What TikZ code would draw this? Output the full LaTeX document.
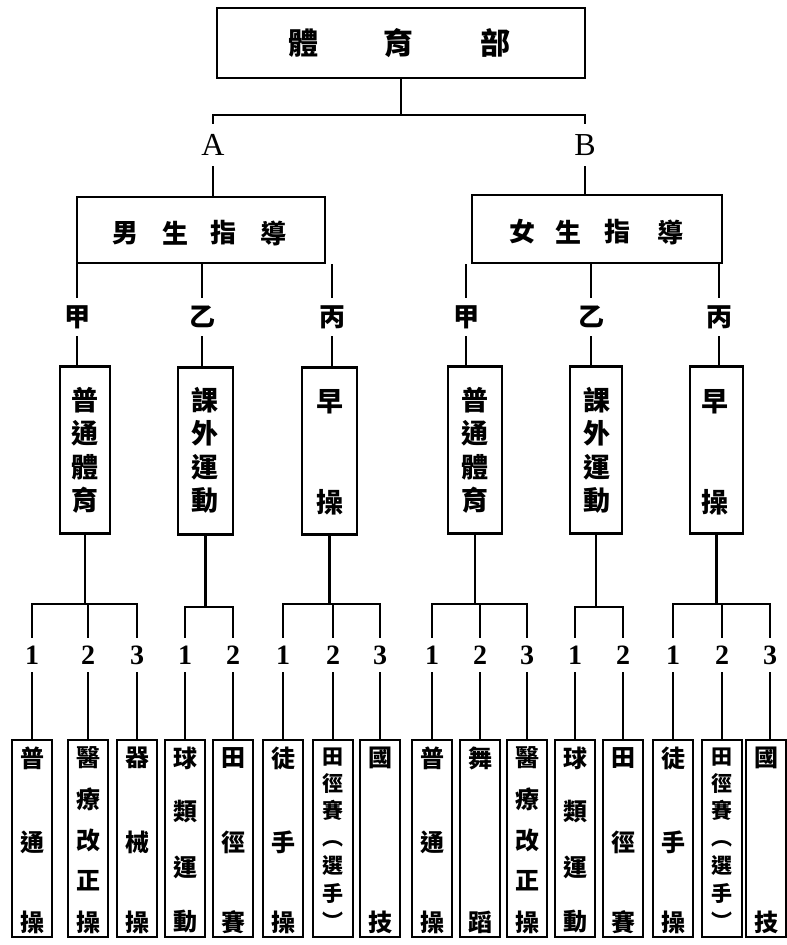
\documentclass[tikz,border=0pt]{standalone}
\usepackage{fontspec}
\setmainfont{Liberation Serif}
\newfontfamily\cjk{Noto Sans CJK TC}
\newcommand\botcol[4][tD]{%
  \node[box,minimum width=40pt,minimum height=197pt] (#2) at (#3,838.5) {};
  \foreach \c/\yy [count=\k] in {#4} \node[#1] (#2-\k) at (#3,\yy) {\c};
}
\newcommand\midcol[3]{%
  \foreach \c/\yy [count=\k] in {#3} \node[tC] (#1-\k) at (#2,\yy) {\c};
}
\begin{document}
\begin{tikzpicture}[x=1pt,y=-1pt,line width=2.6pt,
  box/.style={draw,inner sep=0pt,line width=2.6pt},
  tA/.style={font=\cjk\bfseries\fontsize{30}{30}\selectfont,inner sep=0pt},
  tB/.style={font=\cjk\bfseries\fontsize{26}{26}\selectfont,inner sep=0pt},
  tC/.style={font=\cjk\bfseries\fontsize{27}{27}\selectfont,inner sep=0pt},
  tD/.style={font=\cjk\bfseries\fontsize{24}{24}\selectfont,inner sep=0pt},
  tE/.style={font=\cjk\bfseries\fontsize{21}{21}\selectfont,inner sep=0pt,text height=17pt,text depth=2pt},
  gan/.style={font=\cjk\bfseries\fontsize{26}{26}\selectfont,inner sep=0pt,minimum height=36pt},
  num/.style={font=\bfseries\fontsize{28}{28}\selectfont,inner sep=0pt,minimum height=32pt},
  ab/.style={font=\fontsize{32}{32}\selectfont,inner sep=0pt,minimum height=40pt},
]
\useasboundingbox (0,0) rectangle (787,945);
\fill[white] (0,0) rectangle (787,945);

% top
\node[box,minimum width=368pt,minimum height=70pt] (top) at (401,43) {};
\node[tA] (t1) at (303,43) {體};
\node[tA] (t2) at (398,43) {育};
\node[tA] (t3) at (495,43) {部};
\node[ab] (A) at (213,145) {A};
\node[ab] (B) at (585,145) {B};
\coordinate (barA) at (213,115);
\coordinate (barB) at (585,115);
\draw (top.south) -- (top.south |- barA);
\draw (A.north) -- (barA) -- (barB) -- (B.north);

% level 2
\node[box,minimum width=248pt,minimum height=66pt] (boy) at (201,230) {};
\node[tB] (boy1) at (125,233) {男};
\node[tB] (boy2) at (175,233) {生};
\node[tB] (boy3) at (223,233) {指};
\node[tB] (boy4) at (273,233) {導};
\node[box,minimum width=250pt,minimum height=68pt] (girl) at (597,229) {};
\node[tB] (girl1) at (522,232) {女};
\node[tB] (girl2) at (568,232) {生};
\node[tB] (girl3) at (617,232) {指};
\node[tB] (girl4) at (670,232) {導};
\draw (A.south) -- (A.south |- boy.north);
\draw (B.south) -- (B.south |- girl.north);

% 甲乙丙
\node[gan] (ga1) at (77,317) {甲};
\node[gan] (ga2) at (202,317) {乙};
\node[gan] (ga3) at (332,317) {丙};
\node[gan] (gb1) at (466,317) {甲};
\node[gan] (gb2) at (591,317) {乙};
\node[gan] (gb3) at (719,317) {丙};

% level 3 boxes
\node[box,minimum width=50pt,minimum height=167pt] (pA1) at (85,450) {};
\node[box,minimum width=55pt,minimum height=167pt] (pA2) at (205.5,451) {};
\node[box,minimum width=55pt,minimum height=167pt] (pA3) at (329.5,451) {};
\node[box,minimum width=54pt,minimum height=167pt] (pB1) at (475,450) {};
\node[box,minimum width=52pt,minimum height=167pt] (pB2) at (596,450) {};
\node[box,minimum width=53pt,minimum height=167pt] (pB3) at (716.5,450) {};
\midcol{mA1}{85}{普/400,通/433,體/467,育/500}
\midcol{mA2}{205}{課/400,外/433,運/467,動/500}
\midcol{mA3}{330}{早/402,操/502}
\midcol{mB1}{475}{普/400,通/433,體/467,育/500}
\midcol{mB2}{597}{課/400,外/433,運/467,動/500}
\midcol{mB3}{715}{早/402,操/502}

\foreach \g/\p in {ga1/pA1,ga2/pA2,ga3/pA3,gb1/pB1,gb2/pB2,gb3/pB3}{
  \draw (\g.north) -- (\g.north |- boy.south);
  \draw (\g.south) -- (\g.south |- \p.north);
}

% numbers
\node[num] (n1) at (32,655) {1};
\node[num] (n2) at (88,655) {2};
\node[num] (n3) at (137,655) {3};
\node[num] (n4) at (185,655) {1};
\node[num] (n5) at (233,655) {2};
\node[num] (n6) at (283,655) {1};
\node[num] (n7) at (333,655) {2};
\node[num] (n8) at (380,655) {3};
\node[num] (n9) at (432,655) {1};
\node[num] (n10) at (480,655) {2};
\node[num] (n11) at (527,655) {3};
\node[num] (n12) at (575,655) {1};
\node[num] (n13) at (623,655) {2};
\node[num] (n14) at (673,655) {1};
\node[num] (n15) at (722,655) {2};
\node[num] (n16) at (770,655) {3};

% group bars
\coordinate (gA1) at (85,604);
\coordinate (gA2) at (205.5,607);
\coordinate (gA3) at (329.5,604);
\coordinate (gB1) at (475,604);
\coordinate (gB2) at (596,607);
\coordinate (gB3) at (716.5,604);
\draw (pA1.south) -- (gA1);
\draw (pA2.south) -- (gA2);
\draw (pA3.south) -- (gA3);
\draw (pB1.south) -- (gB1);
\draw (pB2.south) -- (gB2);
\draw (pB3.south) -- (gB3);
\draw (n1.north) -- (n1.north |- gA1) -- (n3.north |- gA1) -- (n3.north);
\draw (n2.north) -- (n2.north |- gA1);
\draw (n4.north) -- (n4.north |- gA2) -- (n5.north |- gA2) -- (n5.north);
\draw (n6.north) -- (n6.north |- gA3) -- (n8.north |- gA3) -- (n8.north);
\draw (n7.north) -- (n7.north |- gA3);
\draw (n9.north) -- (n9.north |- gB1) -- (n11.north |- gB1) -- (n11.north);
\draw (n10.north) -- (n10.north |- gB1);
\draw (n12.north) -- (n12.north |- gB2) -- (n13.north |- gB2) -- (n13.north);
\draw (n14.north) -- (n14.north |- gB3) -- (n16.north |- gB3) -- (n16.north);
\draw (n15.north) -- (n15.north |- gB3);

% bottom boxes
\botcol{b1}{32}{普/758,通/842,操/922}
\botcol{b2}{88}{醫/758,療/799,改/840,正/881,操/922}
\botcol{b3}{137}{器/758,械/842,操/922}
\botcol{b4}{185}{球/758,類/812,運/867,動/922}
\botcol{b5}{233}{田/758,徑/842,賽/922}
\botcol{b6}{283}{徒/758,手/842,操/922}
\botcol[tE]{b7}{333}{田/757,徑/784,賽/811,︵/838,選/866,手/894,︶/922}
\botcol{b8}{380}{國/758,技/922}
\botcol{b9}{432}{普/758,通/842,操/922}
\botcol{b10}{480}{舞/758,蹈/922}
\botcol{b11}{527}{醫/758,療/799,改/840,正/881,操/922}
\botcol{b12}{575}{球/758,類/812,運/867,動/922}
\botcol{b13}{623}{田/758,徑/842,賽/922}
\botcol{b14}{673}{徒/758,手/842,操/922}
\botcol[tE]{b15}{722}{田/757,徑/784,賽/811,︵/838,選/866,手/894,︶/922}
\botcol{b16}{766}{國/758,技/922}

\foreach \i in {1,...,16}{
  \draw (n\i.south) -- (n\i.south |- b\i.north);
}
\end{tikzpicture}
\end{document}
